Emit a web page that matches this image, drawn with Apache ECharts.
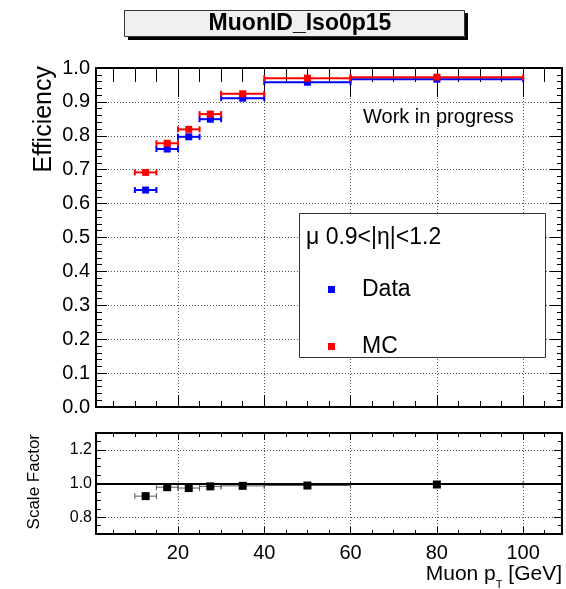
<!DOCTYPE html>
<html>
<head>
<meta charset="utf-8">
<script src="https://cdn.jsdelivr.net/npm/echarts@6/dist/echarts.min.js"></script>
<style>
html,body{margin:0;padding:0;background:#fff;}
#chart{width:566px;height:589px;}
</style>
</head>
<body>
<div id="chart"></div>
<script>
// ---- data ----
const binLow    = [10, 15, 20, 25, 30, 40, 60];
const binHigh   = [15, 20, 25, 30, 40, 60, 100];
const binCenter = [12.5, 17.5, 22.5, 27.5, 35, 50, 80];
const effData   = [0.640, 0.761, 0.797, 0.849, 0.911, 0.958, 0.967];
const effMC     = [0.692, 0.778, 0.819, 0.864, 0.924, 0.970, 0.973];
const scaleFactor = [0.925, 0.978, 0.973, 0.983, 0.986, 0.988, 0.994];
const xTickLabels = [20, 40, 60, 80, 100];
const sfTickLabels = [0.8, 1.0, 1.2];
const titleText = 'MuonID_Iso0p15';
const legendHeader = 'μ 0.9<|η|<1.2';
const seriesNames = ['Data', 'MC'];

const FONT = 'Liberation Sans, Arial, Helvetica, sans-serif';
const X_MIN = 1, X_MAX = 109;

const chart = echarts.init(document.getElementById('chart'), null, {renderer: 'canvas'});

function errBars(vals) {
  return binLow.map((lo, i) => [lo, binHigh[i], vals[i]]);
}
function errRender(color, width, cap) {
  return function (params, api) {
    const y = api.value(2);
    const p1 = api.coord([api.value(0), y]);
    const p2 = api.coord([api.value(1), y]);
    const st = {stroke: color, lineWidth: width};
    return {
      type: 'group',
      children: [
        {type: 'line', shape: {x1: p1[0], y1: p1[1], x2: p2[0], y2: p2[1]}, style: st},
        {type: 'line', shape: {x1: p1[0], y1: p1[1] - cap, x2: p1[0], y2: p1[1] + cap}, style: st},
        {type: 'line', shape: {x1: p2[0], y1: p2[1] - cap, x2: p2[0], y2: p2[1] + cap}, style: st}
      ]
    };
  };
}
function pts(vals) { return binCenter.map((x, i) => [x, vals[i]]); }

const dotted = {show: true, lineStyle: {color: '#555', width: 1, type: [1, 2]}};
function xAx(grid, pos, step, majLen, opts) {
  return Object.assign({
    type: 'value', gridIndex: grid, position: pos, min: X_MIN, max: X_MAX,
    minInterval: step, maxInterval: step,
    axisLine: {show: false, onZero: false},
    axisTick: {show: true, inside: true, length: majLen, lineStyle: {color: '#000', width: 1}},
    axisLabel: {show: false},
    splitLine: {show: false}
  }, opts || {});
}
function yAx(grid, pos, min, max, step, majLen, opts) {
  return Object.assign({
    type: 'value', gridIndex: grid, position: pos, min: min, max: max,
    minInterval: step, maxInterval: step,
    axisLine: {show: false, onZero: false},
    axisTick: {show: true, inside: true, length: majLen, lineStyle: {color: '#000', width: 1}},
    axisLabel: {show: false},
    splitLine: {show: false}
  }, opts || {});
}
const frameLine = {show: true, onZero: false, lineStyle: {color: '#000', width: 2}};

const option = {
  animation: false,
  backgroundColor: '#fff',
  textStyle: {fontFamily: FONT},
  grid: [
    {left: 96, top: 68, width: 466, height: 339},
    {left: 96, top: 433, width: 466, height: 101}
  ],
  xAxis: [
    xAx(0, 'bottom', 20, 12, {axisLine: frameLine, splitLine: dotted}),
    xAx(0, 'bottom', 5, 6),
    xAx(0, 'top', 20, 29, {axisLine: frameLine}),
    xAx(0, 'top', 5, 14),
    xAx(1, 'bottom', 20, 7, {
      axisLine: frameLine, splitLine: dotted,
      axisLabel: {
        show: true, fontSize: 20, color: '#000', margin: 9, fontFamily: FONT,
        showMinLabel: false, showMaxLabel: false,
        formatter: function (v) {
          const r = Math.round(v);
          return (Math.abs(v - r) < 1e-6 && xTickLabels.indexOf(r) >= 0) ? String(r) : '';
        }
      }
    }),
    xAx(1, 'bottom', 5, 4),
    xAx(1, 'top', 20, 7, {axisLine: frameLine}),
    xAx(1, 'top', 5, 4)
  ],
  yAxis: [
    {
      type: 'value', gridIndex: 0, position: 'left', min: 0, max: 1, interval: 0.1,
      axisLine: frameLine,
      axisTick: {show: true, inside: true, length: 11, lineStyle: {color: '#000'}},
      minorTick: {show: true, splitNumber: 5, length: 6, lineStyle: {color: '#000'}},
      axisLabel: {show: true, fontSize: 20, color: '#000', margin: 6, fontFamily: FONT,
        formatter: v => v.toFixed(1)},
      splitLine: dotted
    },
    {
      type: 'value', gridIndex: 0, position: 'right', min: 0, max: 1, interval: 0.1,
      axisLine: frameLine,
      axisTick: {show: true, inside: true, length: 12, lineStyle: {color: '#000'}},
      minorTick: {show: true, splitNumber: 5, length: 5, lineStyle: {color: '#000'}},
      axisLabel: {show: false},
      splitLine: {show: false}
    },
    yAx(1, 'left', 0.7, 1.3, 0.2, 10, {
      axisLine: frameLine, splitLine: dotted,
      axisLabel: {
        show: true, fontSize: 16, color: '#000', margin: 4, fontFamily: FONT,
        showMinLabel: false, showMaxLabel: false,
        formatter: function (v) {
          for (const t of sfTickLabels) { if (Math.abs(v - t) < 1e-6) return t.toFixed(1); }
          return '';
        }
      }
    }),
    yAx(1, 'left', 0.7, 1.3, 0.05, 5),
    yAx(1, 'right', 0.7, 1.3, 0.2, 8, {axisLine: frameLine}),
    yAx(1, 'right', 0.7, 1.3, 0.05, 4)
  ],
  legend: {
    data: seriesNames,
    orient: 'vertical',
    left: 323, top: 273,
    z: 30, zlevel: 0,
    itemWidth: 7, itemHeight: 7, itemGap: 34,
    icon: 'rect',
    selectedMode: false,
    textStyle: {fontSize: 23, color: '#000', fontFamily: FONT, padding: [0, 0, 0, 22]}
  },
  series: [
    {
      type: 'custom', name: 'DataErr', xAxisIndex: 0, yAxisIndex: 0,
      renderItem: errRender('#0000ff', 2, 3),
      encode: {x: [0, 1], y: 2}, data: errBars(effData), z: 2
    },
    {
      type: 'custom', name: 'MCErr', xAxisIndex: 0, yAxisIndex: 0,
      renderItem: errRender('#ff0000', 2, 3),
      encode: {x: [0, 1], y: 2}, data: errBars(effMC), z: 3
    },
    {
      type: 'scatter', name: 'Data', xAxisIndex: 0, yAxisIndex: 0,
      symbol: 'rect', symbolSize: 7, itemStyle: {color: '#0000ff', opacity: 1},
      data: pts(effData), z: 4
    },
    {
      type: 'scatter', name: 'MC', xAxisIndex: 0, yAxisIndex: 0,
      symbol: 'rect', symbolSize: 7, itemStyle: {color: '#ff0000', opacity: 1},
      data: pts(effMC), z: 5
    },
    {
      type: 'custom', name: 'SFErr', xAxisIndex: 4, yAxisIndex: 2,
      renderItem: errRender('#555', 1, 3),
      encode: {x: [0, 1], y: 2}, data: errBars(scaleFactor), z: 2
    },
    {
      type: 'scatter', name: 'SF', xAxisIndex: 4, yAxisIndex: 2,
      symbol: 'rect', symbolSize: 8, itemStyle: {color: '#000', opacity: 1},
      data: pts(scaleFactor), z: 4,
      markLine: {
        silent: true, symbol: 'none', label: {show: false}, z: 3,
        lineStyle: {color: '#000', width: 2, type: 'solid'},
        data: [{yAxis: 1}]
      }
    }
  ],
  graphic: [
    {type: 'rect', shape: {x: 128, y: 37, width: 340, height: 3}, style: {fill: '#000'}, z: 10},
    {type: 'rect', shape: {x: 465, y: 13, width: 3, height: 27}, style: {fill: '#000'}, z: 10},
    {type: 'rect', shape: {x: 124.5, y: 10.5, width: 340, height: 26}, style: {fill: '#f0f0f0', stroke: '#333', lineWidth: 1}, z: 11},
    {type: 'text', x: 300, y: 24, z: 12,
      style: {text: titleText, font: 'bold 23px ' + FONT, fill: '#000', align: 'center', verticalAlign: 'middle'}},
    {type: 'text', x: 44, y: 66, rotation: Math.PI / 2, z: 12,
      style: {text: 'Efficiency', font: '25px ' + FONT, fill: '#000', align: 'right', verticalAlign: 'middle'}},
    {type: 'text', x: 34, y: 434, rotation: Math.PI / 2, z: 12,
      style: {text: 'Scale Factor', font: '17px ' + FONT, fill: '#000', align: 'right', verticalAlign: 'middle'}},
    {type: 'text', x: 562, y: 574, z: 12,
      style: {
        text: 'Muon p{s|T} [GeV]', font: '21px ' + FONT, fill: '#000', align: 'right', verticalAlign: 'middle',
        rich: {s: {fontSize: 11, fontFamily: FONT, fill: '#000', padding: [22, 0, 0, 0]}}
      }},
    {type: 'text', x: 363, y: 117, z: 12,
      style: {text: 'Work in progress', font: '20px ' + FONT, fill: '#000', align: 'left', verticalAlign: 'middle'}},
    {type: 'rect', shape: {x: 299.5, y: 213.5, width: 246, height: 144}, style: {fill: '#fff', stroke: '#333', lineWidth: 1}, z: 1},
    {type: 'text', x: 306, y: 238, z: 12,
      style: {text: legendHeader, font: '23px ' + FONT, fill: '#000', align: 'left', verticalAlign: 'middle'}}
  ]
};
chart.setOption(option);
</script>
</body>
</html>
